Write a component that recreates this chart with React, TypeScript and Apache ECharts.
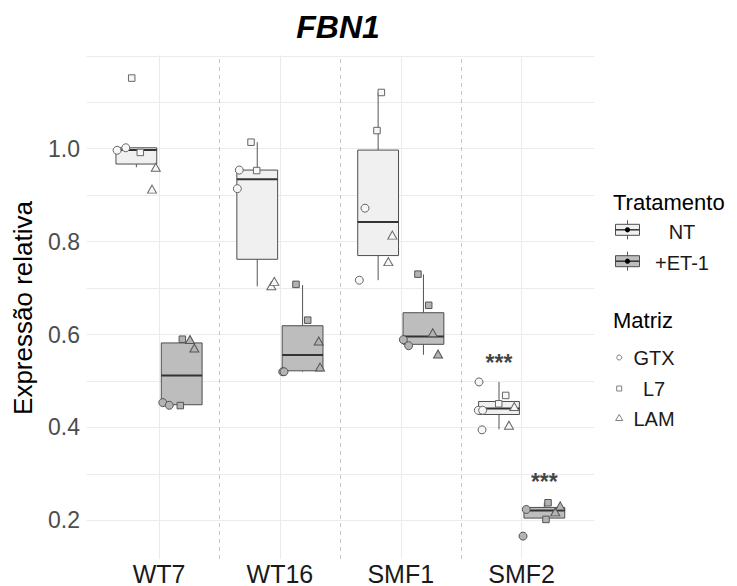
import React, { useEffect, useRef } from 'react';
import * as echarts from 'echarts';

// ---------------- data ----------------
const categories = ['WT7', 'WT16', 'SMF1', 'SMF2'];
const treatments = ['NT', '+ET-1'];
const matrices = ['GTX', 'L7', 'LAM'];

// box statistics (whisker low, Q1, median, Q3, whisker high) per category
const ntLow = [0.96, 0.704, 0.717, 0.396];
const ntQ1 = [0.967, 0.762, 0.77, 0.428];
const ntMed = [0.997, 0.934, 0.842, 0.441];
const ntQ3 = [1.002, 0.954, 0.997, 0.456];
const ntHigh = [1.002, 1.014, 1.121, 0.498];

const etLow = [0.447, 0.52, 0.5565, 0.201];
const etQ1 = [0.449, 0.522, 0.579, 0.205];
const etMed = [0.512, 0.556, 0.596, 0.2215];
const etQ3 = [0.582, 0.619, 0.647, 0.228];
const etHigh = [0.59, 0.7065, 0.7295, 0.238];

// jittered points: [x on category scale (1..4), relative expression]
const ntGtx = [[0.653, 0.9966], [0.725, 1.002], [1.648, 0.914], [1.664, 0.954], [2.657, 0.717], [2.704, 0.872], [3.641, 0.437], [3.647, 0.498], [3.672, 0.395], [3.677, 0.437]];
const ntL7 = [[0.774, 1.152], [0.845, 0.992], [1.761, 1.014], [1.808, 0.953], [2.803, 1.039], [2.839, 1.121], [3.81, 0.451], [3.868, 0.469]];
const ntLam = [[0.942, 0.913], [0.973, 0.96], [1.929, 0.705], [1.954, 0.7145], [2.897, 0.757], [2.93, 0.814], [3.895, 0.405], [3.939, 0.445]];
const etGtx = [[1.031, 0.4536], [1.085, 0.4478], [2.023, 0.52], [2.034, 0.52], [3.021, 0.589], [3.065, 0.576], [4.011, 0.1663], [4.038, 0.2236]];
const etL7 = [[1.176, 0.4472], [1.193, 0.59], [2.133, 0.708], [2.23, 0.631], [3.142, 0.73], [3.231, 0.663], [4.201, 0.2022], [4.218, 0.238]];
const etLam = [[1.256, 0.5893], [1.292, 0.571], [2.321, 0.586], [2.332, 0.53], [3.264, 0.604], [3.308, 0.558], [4.278, 0.2184], [4.319, 0.2313]];

// significance labels (value where the label sits), per category
const sigText = '***';
const ntSig = [null, null, null, 0.549];
const etSig = [null, null, null, 0.293];

// ---------------- styling ----------------
const FONT = '"Liberation Sans", Arial, Helvetica, sans-serif';
const DODGE = 0.1875;
const BOX_W = 0.3375;
const NT_FILL = '#f0f0f0';
const ET_FILL = '#bdbdbd';
const GRID = '#ebebeb';

function buildOption() {
  const boxData: any[] = [];
  categories.forEach((_, i) => {
    boxData.push([i + 1 - DODGE, ntLow[i], ntQ1[i], ntMed[i], ntQ3[i], ntHigh[i], 0]);
    boxData.push([i + 1 + DODGE, etLow[i], etQ1[i], etMed[i], etQ3[i], etHigh[i], 1]);
  });

  const sigData: any[] = [];
  categories.forEach((_, i) => {
    if (ntSig[i] != null) sigData.push([i + 1 - DODGE, ntSig[i]]);
    if (etSig[i] != null) sigData.push([i + 1 + DODGE, etSig[i]]);
  });

  const pointSeries = (name: string, data: number[][], symbol: string, size: any, fill: string, stroke: string) => ({
    type: 'scatter',
    name,
    data,
    symbol,
    symbolSize: size,
    z: 5,
    itemStyle: { color: fill, borderColor: stroke, borderWidth: 1, opacity: 1 },
    silent: true,
  });

  const ntPt = '#f7f7f7';
  const ntStroke = '#666666';
  const etPt = '#b3b3b3';
  const etStroke = '#555555';

  const legendX = 627.5;
  const legendG: any[] = [];
  const keyRow = (cy: number, fill: string, label: string) => {
    legendG.push(
      { type: 'line', shape: { x1: legendX, y1: cy - 9.5, x2: legendX, y2: cy + 9.5 }, style: { stroke: '#555', lineWidth: 1 } },
      { type: 'rect', shape: { x: legendX - 12, y: cy - 5.5, width: 24, height: 11 }, style: { fill, stroke: '#4d4d4d', lineWidth: 1 } },
      { type: 'line', shape: { x1: legendX - 12, y1: cy, x2: legendX + 12, y2: cy }, style: { stroke: '#333', lineWidth: 1.5 } },
      { type: 'circle', shape: { cx: legendX, cy, r: 2.6 }, style: { fill: '#000' } },
      { type: 'text', style: { text: label, x: 682, y: cy + 2, fontSize: 20, fontFamily: FONT, fill: '#1a1a1a', align: 'center', verticalAlign: 'middle' } },
    );
  };
  keyRow(229.8, NT_FILL, treatments[0]);
  keyRow(261.2, ET_FILL, treatments[1]);

  const mx = 619.2;
  const symStroke = '#808080';
  legendG.push(
    { type: 'circle', shape: { cx: mx, cy: 357.5, r: 2.5 }, style: { fill: '#fff', stroke: symStroke, lineWidth: 1 } },
    { type: 'rect', shape: { x: mx - 2.5, y: 386, width: 5, height: 5 }, style: { fill: '#fff', stroke: symStroke, lineWidth: 1 } },
    { type: 'polygon', shape: { points: [[mx, 414.5], [mx + 3.6, 420.5], [mx - 3.6, 420.5]] }, style: { fill: '#fff', stroke: symStroke, lineWidth: 1 } },
  );
  [357.5, 388.5, 418.5].forEach((cy, k) => {
    legendG.push({ type: 'text', style: { text: matrices[k], x: 654, y: cy, fontSize: 20, fontFamily: FONT, fill: '#1a1a1a', align: 'center', verticalAlign: 'middle' } });
  });

  return {
    animation: false,
    backgroundColor: '#ffffff',
    grid: { left: 86.5, right: 142.8, top: 55.3, bottom: 25, containLabel: false },
    xAxis: {
      type: 'value',
      min: 0.4,
      max: 4.6,
      minInterval: 1,
      maxInterval: 1,
      axisLine: { show: false },
      axisTick: { show: false },
      splitLine: { show: true, showMinLine: false, showMaxLine: false, lineStyle: { color: GRID, width: 1 } },
      axisLabel: {
        show: true,
        margin: 2,
        fontSize: 25,
        fontFamily: FONT,
        color: '#1a1a1a',
        showMinLabel: false,
        showMaxLabel: false,
        formatter: (v: number) => {
          const r = Math.round(v);
          return Math.abs(v - r) < 1e-6 && r >= 1 && r <= categories.length ? categories[r - 1] : '';
        },
      },
    },
    yAxis: {
      type: 'value',
      min: 0.117,
      max: 1.201,
      minInterval: 0.1,
      maxInterval: 0.1,
      axisLine: { show: false },
      axisTick: { show: false },
      splitLine: { show: true, showMinLine: false, showMaxLine: false, lineStyle: { color: GRID, width: 1 } },
      axisLabel: {
        show: true,
        margin: 6.5,
        fontSize: 23,
        fontFamily: FONT,
        color: '#4d4d4d',
        showMinLabel: false,
        showMaxLabel: false,
        formatter: (v: number) => {
          const k = v * 5;
          return Math.abs(k - Math.round(k)) < 1e-6 && v > 0.15 && v < 1.05 ? v.toFixed(1) : '';
        },
      },
    },
    graphic: [
      { type: 'text', style: { text: 'FBN1', x: 338, y: 26.5, fontSize: 32, fontWeight: 'bold', fontStyle: 'italic', fontFamily: FONT, fill: '#000', align: 'center', verticalAlign: 'middle' } },
      { type: 'text', rotation: Math.PI / 2, x: 22.5, y: 308, style: { text: 'Expressão relativa', x: 0, y: 0, fontSize: 26, fontFamily: FONT, fill: '#000', align: 'center', verticalAlign: 'middle' } },
      { type: 'text', style: { text: 'Tratamento', x: 613, y: 202.5, fontSize: 22, fontFamily: FONT, fill: '#000', align: 'left', verticalAlign: 'middle' } },
      { type: 'text', style: { text: 'Matriz', x: 613, y: 320.5, fontSize: 22, fontFamily: FONT, fill: '#000', align: 'left', verticalAlign: 'middle' } },
      ...legendG,
    ],
    series: [
      {
        type: 'custom',
        name: 'boxes',
        data: boxData,
        encode: { x: 0, y: [1, 2, 3, 4, 5] },
        z: 3,
        silent: true,
        renderItem: (params: any, api: any) => {
          const x = api.value(0);
          const w = api.size([BOX_W, 0])[0];
          const pLow = api.coord([x, api.value(1)]);
          const pQ1 = api.coord([x, api.value(2)]);
          const pMed = api.coord([x, api.value(3)]);
          const pQ3 = api.coord([x, api.value(4)]);
          const pHigh = api.coord([x, api.value(5)]);
          const fill = api.value(6) === 0 ? NT_FILL : ET_FILL;
          const cx = pMed[0];
          return {
            type: 'group',
            children: [
              { type: 'line', shape: { x1: cx, y1: pLow[1], x2: cx, y2: pQ1[1] }, style: { stroke: '#555', lineWidth: 1 } },
              { type: 'line', shape: { x1: cx, y1: pQ3[1], x2: cx, y2: pHigh[1] }, style: { stroke: '#555', lineWidth: 1 } },
              { type: 'rect', shape: { x: cx - w / 2, y: pQ3[1], width: w, height: pQ1[1] - pQ3[1] }, style: { fill, stroke: '#4d4d4d', lineWidth: 1 } },
              { type: 'line', shape: { x1: cx - w / 2, y1: pMed[1], x2: cx + w / 2, y2: pMed[1] }, style: { stroke: '#333', lineWidth: 2 } },
            ],
          };
        },
        markLine: {
          silent: true,
          symbol: 'none',
          label: { show: false },
          lineStyle: { type: [4, 4], color: '#c4c4c4', width: 1 },
          data: [{ xAxis: 1.5 }, { xAxis: 2.5 }, { xAxis: 3.5 }],
        },
      },
      pointSeries('NT GTX', ntGtx, 'circle', 8, ntPt, ntStroke),
      pointSeries('NT L7', ntL7, 'rect', 6.5, ntPt, ntStroke),
      pointSeries('NT LAM', ntLam, 'triangle', [9, 8], ntPt, ntStroke),
      pointSeries('ET GTX', etGtx, 'circle', 8, etPt, etStroke),
      pointSeries('ET L7', etL7, 'rect', 6.5, etPt, etStroke),
      pointSeries('ET LAM', etLam, 'triangle', [9, 8], etPt, etStroke),
      {
        type: 'scatter',
        name: 'sig',
        data: sigData,
        symbol: 'circle',
        symbolSize: 2,
        itemStyle: { color: 'rgba(255,255,255,0)', borderWidth: 0 },
        silent: true,
        z: 6,
        label: {
          show: true,
          position: 'inside',
          formatter: sigText,
          fontSize: 23,
          fontWeight: 'bold',
          fontFamily: FONT,
          color: '#111111',
          offset: [0, 5],
        },
      },
    ],
  };
}

export default function App() {
  const ref = useRef<HTMLDivElement>(null);
  useEffect(() => {
    if (!ref.current) return;
    const chart = echarts.init(ref.current, undefined, { renderer: 'svg' });
    chart.setOption(buildOption() as any);
    return () => chart.dispose();
  }, []);
  return <div ref={ref} style={{ position: 'absolute', left: 0, top: 0, width: 737, height: 586 }} />;
}
